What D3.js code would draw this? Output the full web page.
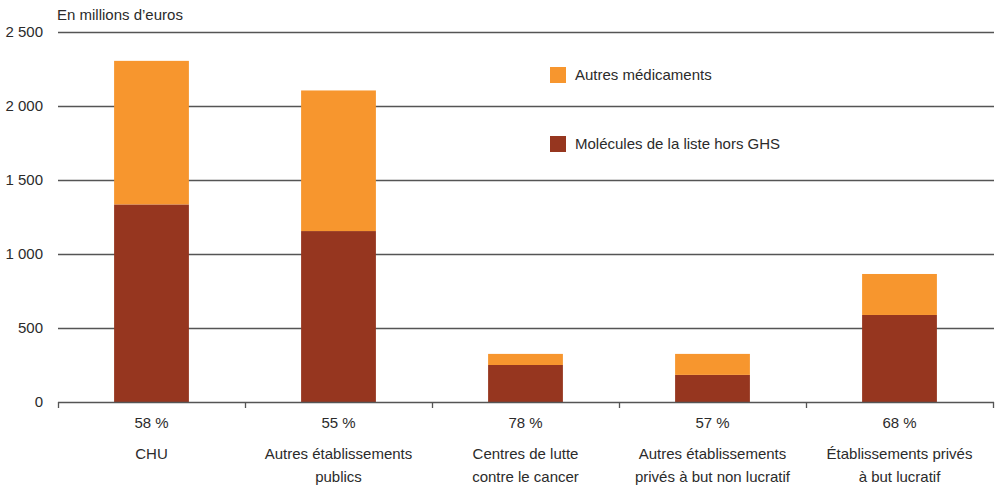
<!DOCTYPE html>
<html>
<head>
<meta charset="utf-8">
<script src="https://cdn.jsdelivr.net/npm/d3@7"></script>
<style>
  html, body { margin: 0; padding: 0; background: #fff; }
  text { font-family: "Liberation Sans", Arial, sans-serif; fill: #2b2b2b; }
</style>
</head>
<body>
<svg id="chart" width="997" height="494"></svg>
<script>
// Établissements (libellés sur deux lignes)
const categories = ["CHU", "Autres établissements publics", "Centres de lutte contre le cancer",
                    "Autres établissements privés à but non lucratif", "Établissements privés à but lucratif"];
const labelLines = [["CHU"], ["Autres établissements", "publics"], ["Centres de lutte", "contre le cancer"],
                    ["Autres établissements", "privés à but non lucratif"], ["Établissements privés", "à but lucratif"]];
// Dépenses en millions d'euros
const molecules = [1335, 1155, 250, 183, 588];
const autres = [970, 950, 75, 142, 277];
// Part des molécules de la liste hors GHS
const shares = ["58 %", "55 %", "78 %", "57 %", "68 %"];
const yTicks = [0, 500, 1000, 1500, 2000, 2500];
const seriesNames = ["Molécules de la liste hors GHS", "Autres médicaments"];
const colors = ["#96361f", "#f7962e"];

const svg = d3.select("#chart");
const margin = { left: 58, right: 4, top: 32, bottom: 92 };
const FS = 15;

const x = d3.scaleBand().domain(categories).range([margin.left, 993]).paddingInner(0.6).paddingOuter(0.3);
const y = d3.scaleLinear().domain([0, 2500]).range([402, 32]);

const fmt = v => d3.format(",")(v).replace(/,/g, " ");

// Grille horizontale
svg.append("g").selectAll("line").data(yTicks.filter(t => t > 0)).join("line")
  .attr("x1", margin.left).attr("x2", 994)
  .attr("y1", d => Math.round(y(d)) + 0.5).attr("y2", d => Math.round(y(d)) + 0.5)
  .attr("stroke", "#555").attr("stroke-width", 1.3);

// Libellés de l'axe vertical
svg.append("g").selectAll("text").data(yTicks).join("text")
  .attr("x", 43).attr("y", d => y(d)).attr("dy", "0.35em")
  .attr("text-anchor", "end").attr("font-size", FS)
  .text(fmt);

svg.append("text").attr("x", 57).attr("y", 20).attr("font-size", FS).text("En millions d’euros");

// Barres empilées
const rows = categories.map((c, i) => ({ cat: c, mol: molecules[i], aut: autres[i] }));
const stack = d3.stack().keys(["mol", "aut"])(rows);
svg.append("g").selectAll("g").data(stack).join("g")
  .attr("fill", (d, i) => colors[i])
  .selectAll("rect").data(d => d).join("rect")
  .attr("x", d => x(d.data.cat)).attr("width", x.bandwidth())
  .attr("y", d => y(d[1])).attr("height", d => y(d[0]) - y(d[1]));

// Axe horizontal avec graduations aux limites de catégories
const step = x.step();
const bounds = d3.range(categories.length + 1).map(i => margin.left + i * step);
const axis = svg.append("g");
axis.append("line").attr("x1", margin.left).attr("x2", 994).attr("y1", 402.5).attr("y2", 402.5)
  .attr("stroke", "#555").attr("stroke-width", 1.3);
axis.selectAll("line.tick").data(bounds).join("line").attr("class", "tick")
  .attr("x1", d => Math.round(d) + 0.5).attr("x2", d => Math.round(d) + 0.5)
  .attr("y1", 402).attr("y2", 408).attr("stroke", "#555").attr("stroke-width", 1.3);

const lab = svg.append("g").selectAll("g").data(categories).join("g")
  .attr("transform", d => `translate(${x(d) + x.bandwidth() / 2},0)`);
lab.append("text").attr("y", 428).attr("text-anchor", "middle").attr("font-size", FS)
  .text((d, i) => shares[i]);
lab.each(function (d, i) {
  const g = d3.select(this);
  labelLines[i].forEach((line, j) => {
    g.append("text").attr("y", 459 + j * 23).attr("text-anchor", "middle").attr("font-size", FS).text(line);
  });
});

// Légende
const legendItems = [
  { name: seriesNames[1], color: colors[1], y: 67 },
  { name: seriesNames[0], color: colors[0], y: 136 }
];
const leg = svg.append("g").selectAll("g").data(legendItems).join("g")
  .attr("transform", d => `translate(550,${d.y})`);
leg.append("rect").attr("width", 16).attr("height", 16).attr("fill", d => d.color);
leg.append("text").attr("x", 25).attr("y", 8).attr("dy", "0.35em").attr("font-size", FS).text(d => d.name);
</script>
</body>
</html>
